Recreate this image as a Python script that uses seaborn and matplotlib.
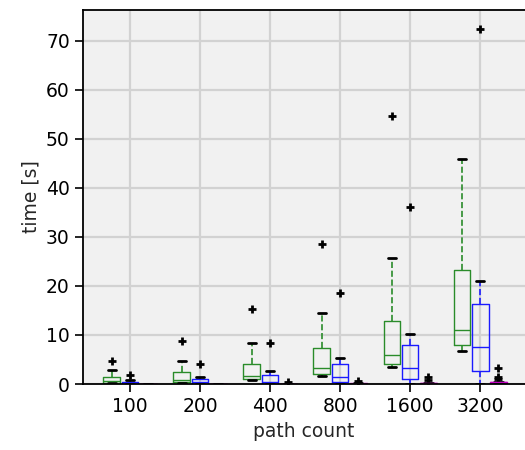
import numpy as np
import pandas as pd
import matplotlib
matplotlib.use("Agg")
import matplotlib.pyplot as plt
import seaborn as sns

# categories (path count)
path_counts = ["100", "200", "400", "800", "1600", "3200"]
methods = ["A", "B", "C"]

# per-category timing samples (seconds)
method_a = [
    [0.25, 0.26, 0.27, 0.4, 0.55, 0.9, 1.35, 2.86, 4.75],
    [0.3, 0.35, 0.4, 0.6, 0.8, 1.5, 2.4, 4.75, 8.8],
    [0.9, 0.95, 1.0, 1.3, 1.7, 3.0, 4.15, 8.4, 15.3],
    [1.7, 1.8, 2.0, 2.6, 3.3, 5.0, 7.3, 14.4, 28.6],
    [3.4, 3.8, 4.1, 5.0, 5.9, 9.0, 12.9, 25.8, 54.7],
    [6.8, 7.5, 8.0, 9.5, 11.1, 17.0, 23.3, 35.0, 46.0],
]
method_b = [
    [0.0, 0.01, 0.02, 0.06, 0.1, 0.2, 0.35, 0.75, 1.8],
    [0.0, 0.05, 0.1, 0.2, 0.45, 0.6, 0.95, 1.5, 4.1],
    [0.0, 0.05, 0.1, 0.3, 0.5, 1.2, 1.9, 2.7, 8.3],
    [0.1, 0.2, 0.35, 0.9, 1.5, 2.8, 4.1, 5.4, 18.5],
    [0.0, 0.5, 1.0, 2.0, 3.2, 5.5, 7.9, 10.3, 36.1],
    [0.1, 1.5, 2.6, 5.0, 7.55, 12.0, 16.4, 21.1, 72.5],
]
method_c = [
    [0.0, 0.01, 0.02, 0.03, 0.04, 0.05, 0.06, 0.07, 0.08],
    [0.0, 0.01, 0.02, 0.03, 0.04, 0.05, 0.06, 0.08, 0.1],
    [0.0, 0.01, 0.02, 0.04, 0.05, 0.06, 0.08, 0.1, 0.35],
    [0.0, 0.02, 0.04, 0.06, 0.08, 0.1, 0.12, 0.15, 0.55],
    [0.0, 0.05, 0.1, 0.15, 0.18, 0.2, 0.25, 0.8, 1.35],
    [0.0, 0.1, 0.15, 0.2, 0.25, 0.3, 0.35, 0.4, 0.45, 0.5, 1.0, 1.5, 3.2],
]
method_colors = ["#2a8c2a", "#1a1aff", "#c000c0"]

rows = []
for m, samples in zip(methods, [method_a, method_b, method_c]):
    for cat, vals in zip(path_counts, samples):
        for v in vals:
            rows.append({"path count": cat, "method": m, "time": v})
df = pd.DataFrame(rows)

sns.set_style("ticks")
plt.rcParams["font.family"] = ["DejaVu Sans"]

fig = plt.figure(figsize=(5.25, 4.5), dpi=100)
ax = fig.add_axes([83 / 525, 1 - 384 / 450, 1 - 83 / 525, (384 - 10) / 450])
ax.set_facecolor("#f1f1f1")

sns.boxplot(
    data=df, x="path count", y="time", hue="method",
    order=path_counts, hue_order=methods,
    palette=method_colors, fill=False, width=0.78, gap=0.08,
    linewidth=1.0, legend=False, ax=ax,
    whiskerprops={"linestyle": "--", "linewidth": 1.2},
    capprops={"color": "black", "linewidth": 2.0},
    flierprops={"marker": "+", "markeredgecolor": "black",
                "markersize": 5.5, "markeredgewidth": 2.0},
)

ax.grid(True, axis="both", color="#d2d2d2", linewidth=1.6)
ax.set_axisbelow(True)
ax.set_xlim(-0.67, 5.64)
ax.set_ylim(0, 76.3)
ax.set_yticks([0, 10, 20, 30, 40, 50, 60, 70])
ax.tick_params(axis="both", labelsize=13.5, length=6, width=1.2, colors="black")
ax.set_xlabel("path count", fontsize=13.5)
ax.set_ylabel("time [s]", fontsize=13.5)
for side in ["left", "bottom", "top"]:
    ax.spines[side].set_color("black")
    ax.spines[side].set_linewidth(1.3)
ax.spines["right"].set_visible(False)

fig.savefig("out.png", dpi=100)
